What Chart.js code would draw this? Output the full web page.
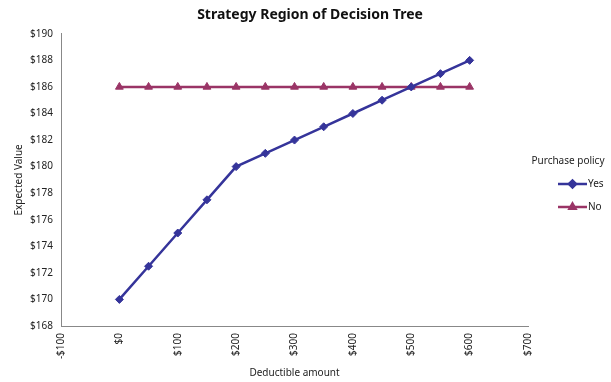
<!DOCTYPE html>
<html>
<head>
<meta charset="utf-8">
<script src="https://cdn.jsdelivr.net/npm/chart.js@4.4.0/dist/chart.umd.min.js"></script>
<style>
  html, body { margin: 0; padding: 0; background: #fff; }
  #wrap { width: 611px; height: 382px; }
</style>
</head>
<body>
<div id="wrap"><canvas id="grafico"></canvas></div>
<script>
const deductibles = [0, 50, 100, 150, 200, 250, 300, 350, 400, 450, 500, 550, 600];
const valoresSim = [170, 172.5, 175, 177.5, 180, 181, 182, 183, 184, 185, 186, 187, 188];
const valoresNao = [186, 186, 186, 186, 186, 186, 186, 186, 186, 186, 186, 186, 186];
const seriesNames = ["Yes", "No"];
const xMin = -100, xMax = 700, xStep = 100;
const yMin = 168, yMax = 190, yStep = 2;

const corSim = "#35349A";
const corNao = "#9A3466";
const fonte = "'Noto Sans', 'DejaVu Sans', sans-serif";

function pontos(valores) {
  return deductibles.map((d, i) => ({ x: d, y: valores[i] }));
}

function dinheiro(v) {
  return v < 0 ? "-$" + Math.abs(v) : "$" + v;
}

// legenda desenhada à mão, linha + marcador como no Excel
const legendaPlugin = {
  id: "legendaExcel",
  afterDraw(chart) {
    const ctx = chart.ctx;
    ctx.save();
    ctx.font = "10px " + fonte;
    ctx.fillStyle = "#222";
    ctx.textBaseline = "middle";
    ctx.textAlign = "center";
    ctx.fillText("Purchase policy", 568, 161);

    const itens = [
      { nome: seriesNames[0], cor: corSim, y: 184, estilo: "rectRot" },
      { nome: seriesNames[1], cor: corNao, y: 207, estilo: "triangle" },
    ];
    itens.forEach((it) => {
      ctx.strokeStyle = it.cor;
      ctx.lineWidth = 2.5;
      ctx.beginPath();
      ctx.moveTo(558, it.y);
      ctx.lineTo(587, it.y);
      ctx.stroke();
      ctx.fillStyle = it.cor;
      Chart.helpers.drawPoint(ctx, { pointStyle: it.estilo, radius: 3.5, rotation: 0, borderWidth: 1 }, 572.5, it.y);
      ctx.fillStyle = "#222";
      ctx.textAlign = "left";
      ctx.fillText(it.nome, 588, it.y);
    });
    ctx.restore();
  },
};

const ctx = document.getElementById("grafico").getContext("2d");

new Chart(ctx, {
  type: "line",
  data: {
    datasets: [
      {
        label: seriesNames[0],
        data: pontos(valoresSim),
        borderColor: corSim,
        backgroundColor: corSim,
        borderWidth: 2.5,
        pointStyle: "rectRot",
        pointRadius: 4,
        pointBorderWidth: 1,
        tension: 0,
      },
      {
        label: seriesNames[1],
        data: pontos(valoresNao),
        borderColor: corNao,
        backgroundColor: corNao,
        borderWidth: 2.5,
        pointStyle: "triangle",
        pointRadius: 4.5,
        pointBorderWidth: 1,
        tension: 0,
      },
    ],
  },
  options: {
    responsive: true,
    maintainAspectRatio: false,
    animation: false,
    layout: { padding: { left: 9, right: 0, top: 0, bottom: 0 } },
    plugins: {
      legend: { display: false },
      tooltip: { enabled: false },
      title: {
        display: true,
        text: "Strategy Region of Decision Tree",
        color: "#111",
        font: { family: fonte, size: 14, weight: "bold" },
        padding: { top: 7, bottom: 10 },
      },
    },
    scales: {
      x: {
        type: "linear",
        min: xMin,
        max: xMax,
        afterFit: (scale) => { scale.height = 56; },
        border: { color: "#888", width: 1 },
        grid: { display: false, drawOnChartArea: false, drawTicks: true, tickLength: 5, tickColor: "#888" },
        ticks: {
          stepSize: xStep,
          minRotation: 90,
          maxRotation: 90,
          padding: 2,
          color: "#222",
          font: { family: fonte, size: 10 },
          callback: (v) => dinheiro(v),
        },
        title: {
          display: true,
          text: "Deductible amount",
          color: "#222",
          font: { family: fonte, size: 10 },
          padding: { top: 0, bottom: 3 },
        },
      },
      y: {
        min: yMin,
        max: yMax,
        afterFit: (scale) => { scale.width = 52; },
        border: { color: "#888", width: 1 },
        grid: { display: false, drawOnChartArea: false, drawTicks: true, tickLength: 5, tickColor: "#888" },
        ticks: {
          stepSize: yStep,
          padding: 3,
          color: "#222",
          font: { family: fonte, size: 10 },
          callback: (v) => dinheiro(v),
        },
        title: {
          display: true,
          text: "Expected Value",
          color: "#222",
          font: { family: fonte, size: 10 },
          padding: { top: 4, bottom: 0 },
        },
      },
      // eixo vazio só para reservar o espaço da legenda
      reserva: {
        position: "right",
        display: true,
        min: yMin,
        max: yMax,
        afterFit: (scale) => { scale.width = 83; },
        border: { display: false },
        grid: { display: false, drawTicks: false },
        ticks: { display: false },
      },
    },
  },
  plugins: [legendaPlugin],
});
</script>
</body>
</html>
